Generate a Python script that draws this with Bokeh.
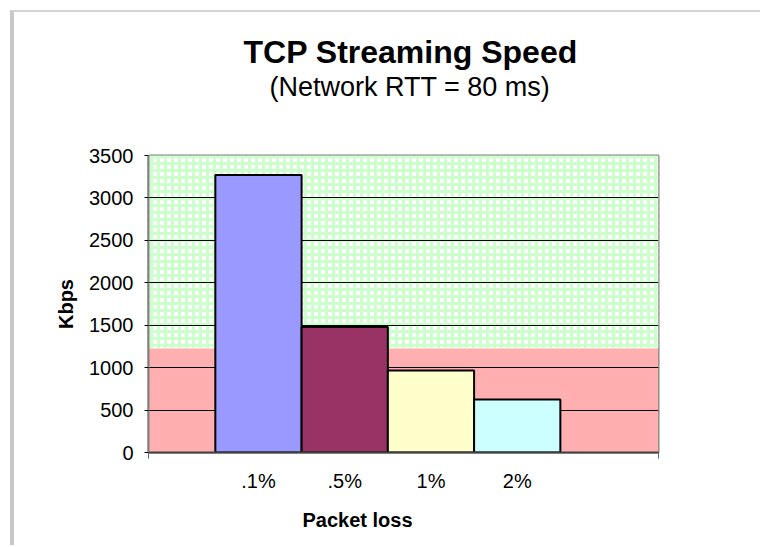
from bokeh.plotting import figure
from bokeh.models import (Range1d, LinearAxis, FixedTicker, BoxAnnotation, Title)
from bokeh.embed import file_html
from bokeh.resources import INLINE

# ---- data ----
categories = [".1%", ".5%", "1%", "2%"]
kbps = [3270, 1480, 965, 625]
bar_colors = ["#9999FF", "#993366", "#FFFFCC", "#CCFFFF"]
y_ticks = [0, 500, 1000, 1500, 2000, 2500, 3000, 3500]
red_band_top = 1230
y_max = 3500
title_text = "TCP Streaming Speed"
subtitle_text = "(Network RTT = 80 ms)"
x_title = "Packet loss"
y_title = "Kbps"

x_pos = list(range(1, len(categories) + 1))
x_start, x_end = -0.275, 5.638

FONT = "Liberation Sans"

p = figure(width=750, height=535, output_backend="svg", toolbar_location=None,
           x_range=Range1d(x_start, x_end), y_range=Range1d(0, y_max),
           x_axis_location=None, y_axis_location=None,
           min_border_left=134, min_border_right=106,
           min_border_top=143, min_border_bottom=95)
p.styles = {"border-left": "4px solid #c8c8c8", "border-top": "2px solid #d4d4d4",
            "margin-left": "10px", "margin-top": "10px"}
p.background_fill_color = "white"
p.border_fill_color = "white"
p.outline_line_color = "#808080"
p.outline_line_width = 2

# background bands
p.add_layout(BoxAnnotation(top=red_band_top, fill_color="#FFAFAF", fill_alpha=1,
                           line_color=None, level="image"))
p.add_layout(BoxAnnotation(bottom=red_band_top, fill_color="white", fill_alpha=1,
                           hatch_pattern="cross", hatch_color="#CCFFCC",
                           hatch_scale=7, hatch_weight=3, hatch_alpha=1,
                           line_color=None, level="image"))

# y axis
yax = LinearAxis(ticker=FixedTicker(ticks=y_ticks), axis_label=y_title)
yax.axis_line_color = "#808080"
yax.axis_line_width = 2
yax.major_tick_in = 0
yax.major_tick_out = 4
yax.minor_tick_line_color = None
yax.major_label_text_font = FONT
yax.major_label_text_font_size = "20px"
yax.major_label_text_color = "black"
yax.major_label_standoff = 11
yax.axis_label_text_font = FONT
yax.axis_label_text_font_size = "20px"
yax.axis_label_text_font_style = "bold"
yax.axis_label_text_color = "black"
yax.axis_label_standoff = 9
p.add_layout(yax, "left")

# x axis line with end ticks
xax1 = LinearAxis(ticker=FixedTicker(ticks=[x_start, x_end]))
xax1.major_label_overrides = {x_start: "", x_end: ""}
xax1.axis_line_color = "#404040"
xax1.axis_line_width = 2
xax1.major_tick_in = 0
xax1.major_tick_out = 6
xax1.major_tick_line_color = "#606060"
xax1.minor_tick_line_color = None
xax1.major_label_standoff = 0
p.add_layout(xax1, "below")

# x category labels
xax2 = LinearAxis(ticker=FixedTicker(ticks=x_pos))
xax2.major_label_overrides = {x: c for x, c in zip(x_pos, categories)}
xax2.axis_line_color = None
xax2.major_tick_line_color = None
xax2.minor_tick_line_color = None
xax2.major_label_text_font = FONT
xax2.major_label_text_font_size = "20px"
xax2.major_label_text_color = "black"
xax2.major_label_standoff = 5
p.add_layout(xax2, "below")

# x axis title (offset left like the reference)
p.add_layout(Title(text=x_title, align="left", offset=154, vertical_align="top",
                   text_font=FONT, text_font_size="20px", text_font_style="bold",
                   text_color="black", standoff=28), "below")

# invisible spacer between frame and subtitle (white tick on white border)
spacer = LinearAxis(ticker=FixedTicker(ticks=[x_start]))
spacer.major_label_overrides = {x_start: ""}
spacer.axis_line_color = None
spacer.major_tick_line_color = "white"
spacer.minor_tick_line_color = None
spacer.major_tick_in = 0
spacer.major_tick_out = 54
spacer.major_label_standoff = 0
p.add_layout(spacer, "above")

p.xgrid.visible = False
p.ygrid.ticker = FixedTicker(ticks=y_ticks)
p.ygrid.grid_line_color = "black"
p.ygrid.grid_line_width = 1

p.vbar(x=x_pos, top=kbps, width=1.0, fill_color=bar_colors,
       line_color="black", line_width=2)

# titles
sub = Title(text=subtitle_text, align="left", offset=121, text_font=FONT,
            text_font_size="27px", text_font_style="normal", text_color="black",
            standoff=0)
p.add_layout(sub, "above")
main = Title(text=title_text, align="left", offset=95, text_font=FONT,
             text_font_size="32px", text_font_style="bold", text_color="black",
             standoff=0)
p.add_layout(main, "above")

open("out.html", "w").write(file_html(p, INLINE))
